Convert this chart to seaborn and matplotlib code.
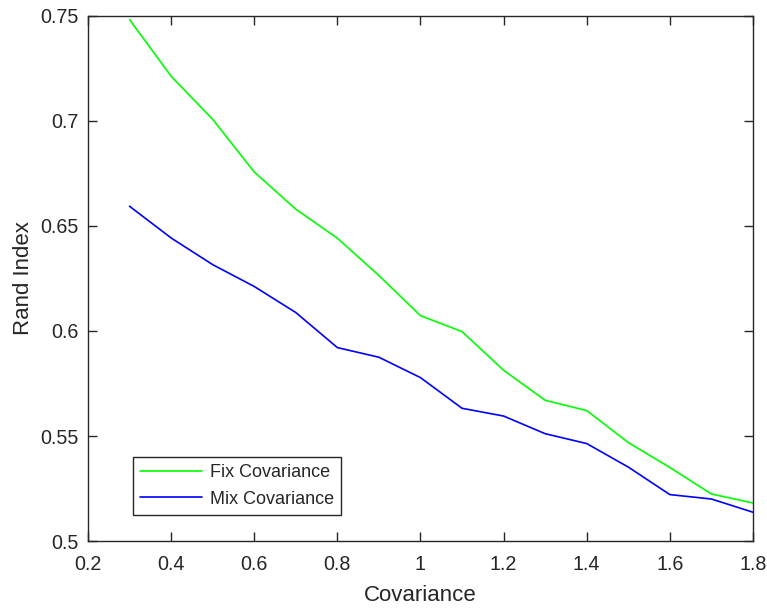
import matplotlib
matplotlib.use("Agg")
import matplotlib.pyplot as plt
import numpy as np
import pandas as pd
import seaborn as sns

# Covariance levels and Rand Index for the two clustering variants
covariance = [0.3, 0.4, 0.5, 0.6, 0.7, 0.8, 0.9, 1.0, 1.1, 1.2, 1.3, 1.4, 1.5, 1.6, 1.7, 1.8]
fix_cov = [0.7483, 0.7213, 0.7008, 0.6757, 0.6580, 0.6442, 0.6264, 0.6073, 0.5997, 0.5813,
           0.5670, 0.5621, 0.5469, 0.5350, 0.5224, 0.5181]
mix_cov = [0.6594, 0.6443, 0.6316, 0.6212, 0.6088, 0.5921, 0.5875, 0.5778, 0.5632, 0.5595,
           0.5511, 0.5464, 0.5352, 0.5221, 0.5200, 0.5137]
series_names = ["Fix Covariance", "Mix Covariance"]
x_ticks = [0.2, 0.4, 0.6, 0.8, 1.0, 1.2, 1.4, 1.6, 1.8]
x_tick_labels = ["0.2", "0.4", "0.6", "0.8", "1", "1.2", "1.4", "1.6", "1.8"]
y_ticks = [0.5, 0.55, 0.6, 0.65, 0.7, 0.75]
y_tick_labels = ["0.5", "0.55", "0.6", "0.65", "0.7", "0.75"]

df = pd.DataFrame({
    "Covariance": covariance * 2,
    "Rand Index": fix_cov + mix_cov,
    "Method": [series_names[0]] * len(covariance) + [series_names[1]] * len(covariance),
})

sns.set_theme(style="ticks")
plt.rcParams["font.family"] = ["Liberation Sans", "DejaVu Sans"]
edge = "#262626"

fig = plt.figure(figsize=(7.67, 6.12), dpi=100)
ax = fig.add_axes([0.1147, 0.1160, 0.8670, 0.8579])

palette = {series_names[0]: "#00ff00", series_names[1]: "#0000ff"}
sns.lineplot(data=df, x="Covariance", y="Rand Index", hue="Method", palette=palette,
             linewidth=1.2, ax=ax, legend=True)

ax.set_xlim(0.2, 1.8)
ax.set_ylim(0.5, 0.75)
ax.set_xticks(x_ticks)
ax.set_xticklabels(x_tick_labels)
ax.set_yticks(y_ticks)
ax.set_yticklabels(y_tick_labels)
ax.tick_params(direction="in", length=6.5, width=1.0, color=edge, labelsize=14.2,
               labelcolor="#262626", top=True, right=True)
ax.tick_params(axis="x", pad=10)
ax.tick_params(axis="y", pad=7)
for s in ax.spines.values():
    s.set_visible(True)
    s.set_color(edge)
    s.set_linewidth(1.0)
ax.set_xlabel("Covariance", fontsize=16, color="#262626", labelpad=8)
ax.set_ylabel("Rand Index", fontsize=16, color="#262626", labelpad=4)

handles, labels = ax.get_legend_handles_labels()
leg = ax.legend(handles, labels, loc="lower left", bbox_to_anchor=(0.0677, 0.0495),
                fontsize=13, frameon=True, fancybox=False, framealpha=1,
                handlelength=3.4, handletextpad=0.45, labelspacing=0.55,
                borderpad=0.4, borderaxespad=0.0)
leg.get_frame().set_edgecolor(edge)
leg.get_frame().set_linewidth(1.0)

fig.savefig("out.png", dpi=100)
